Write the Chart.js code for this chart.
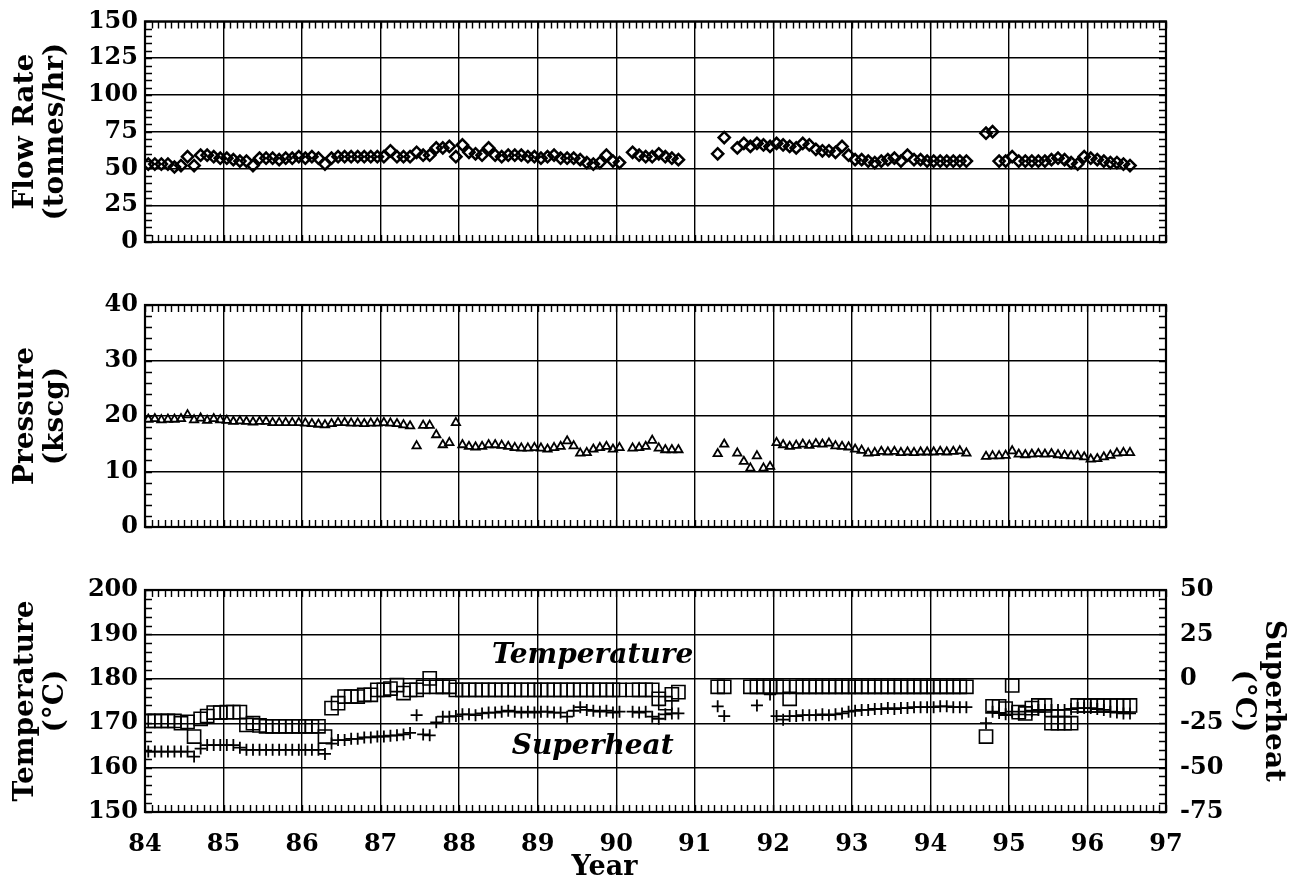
<!DOCTYPE html>
<html><head><meta charset="utf-8">
<script src="https://cdn.jsdelivr.net/npm/chart.js@4.4.1/dist/chart.umd.min.js"></script>
<style>
html,body{margin:0;padding:0;background:#fff;}
#wrap{position:relative;width:1301px;height:890px;overflow:hidden;background:#fff;}
canvas{position:absolute;left:0;}
</style></head><body>
<div id="wrap">
<canvas id="c1" width="1301" height="270" style="top:0px"></canvas>
<canvas id="c2" width="1301" height="280" style="top:275px"></canvas>
<canvas id="c3" width="1301" height="335" style="top:555px"></canvas>
</div>
<script>
// ---------- data (monthly readings, Jan 1984 .. Jul 1996) ----------
const firstYear = 84;
const lastYear = 97;
const monthsPerYear = 12;
const yearTickLabels = ['84','85','86','87','88','89','90','91','92','93','94','95','96','97'];
const xAxisTitle = 'Year';

const flowRate = [
  53,53,53,53,51,52,58,52,59,59,58,57,
  57,56,55,55,52,57,57,57,56,57,57,58,
  57,58,57,53,57,58,58,58,58,58,58,58,
  58,62,58,58,58,61,59,59,64,64,65,58,
  66,61,60,59,64,59,58,59,59,59,58,58,
  57,58,59,57,57,57,56,54,53,54,59,55,
  54,null,61,59,58,58,60,58,57,56,null,null,
  null,null,null,60,71,null,64,67,65,67,66,65,
  67,66,65,64,67,66,63,62,62,61,65,59,
  56,56,55,54,55,56,57,55,59,56,56,55,
  55,55,55,55,55,55,null,null,74,75,55,55,
  58,55,55,55,55,55,56,57,56,54,53,58,
  57,56,55,54,54,53,52
];

const pressure = [
  19.4,19.5,19.3,19.4,19.4,19.5,20.2,19.3,19.6,19.2,19.5,19.3,
  19.2,19.0,19.1,19.0,18.9,19.0,19.0,18.8,18.8,18.8,18.8,18.8,
  18.7,18.6,18.5,18.4,18.6,18.8,18.8,18.7,18.7,18.6,18.7,18.7,
  18.8,18.7,18.6,18.4,18.2,14.6,18.3,18.3,16.6,14.8,15.2,18.8,
  14.8,14.5,14.4,14.5,14.8,14.8,14.7,14.5,14.3,14.2,14.2,14.3,
  14.2,14.0,14.3,14.5,15.5,14.6,13.3,13.4,14.0,14.3,14.5,14.0,
  14.3,null,14.2,14.3,14.5,15.6,14.2,13.9,13.9,13.9,null,null,
  null,null,null,13.2,14.9,null,13.3,11.8,10.6,12.8,10.6,10.9,
  15.2,14.8,14.5,14.7,14.9,14.7,15.0,14.9,15.1,14.6,14.5,14.4,
  14.0,13.8,13.3,13.4,13.6,13.5,13.6,13.4,13.5,13.4,13.5,13.5,
  13.5,13.6,13.5,13.6,13.7,13.3,null,null,12.7,12.8,12.8,12.9,
  13.7,13.1,13.0,13.1,13.2,13.1,13.2,13.0,12.9,12.8,12.8,12.6,
  12.2,12.3,12.6,12.9,13.3,13.4,13.4
];

const temperature = [
  170.5,170.5,170.5,170.5,170.5,170.0,170.3,167.0,171.0,171.6,172.4,172.4,
  172.5,172.5,172.5,169.6,170.0,169.5,169.3,169.3,169.3,169.3,169.3,169.3,
  169.3,169.3,169.3,167.0,173.4,174.5,176.0,176.0,176.0,176.4,176.4,177.5,
  177.5,177.8,178.6,176.8,177.5,177.5,178.2,180.1,178.2,178.2,178.2,177.5,
  177.5,177.5,177.5,177.5,177.5,177.5,177.5,177.5,177.5,177.5,177.5,177.5,
  177.5,177.5,177.5,177.5,177.5,177.5,177.5,177.5,177.5,177.5,177.5,177.5,
  177.5,null,177.5,177.5,177.5,177.5,175.5,174.5,176.5,177.0,null,null,
  null,null,null,178.2,178.2,null,null,null,178.2,178.2,178.2,178.2,
  178.2,178.2,175.5,178.2,178.2,178.2,178.2,178.2,178.2,178.2,178.2,178.2,
  178.2,178.2,178.2,178.2,178.2,178.2,178.2,178.2,178.2,178.2,178.2,178.2,
  178.2,178.2,178.2,178.2,178.2,178.2,null,null,167.0,173.8,173.8,173.3,
  178.5,172.5,172.2,173.4,174.0,174.0,170.0,170.0,170.0,170.0,174.0,174.0,
  174.0,174.0,174.0,174.0,174.0,174.0,174.0
];

const superheat = [
  -41,-41,-41,-41,-41,-41,-41,-43.8,-39.3,-37.3,-37.3,-37.3,
  -37.3,-37.3,-38.8,-40,-40,-40,-40,-40,-40,-40,-40,-40,
  -40,-40,-40,-42.3,-36.5,-34.5,-34.5,-33.8,-33.8,-33,-33,-32.5,
  -32.5,-32,-31.8,-31.3,-30.5,-20.5,-31.3,-31.8,-24.5,-21.3,-21.3,-21,
  -20,-20,-20.5,-19.5,-19,-19,-18.5,-18,-18.5,-19,-18.5,-19,
  -18.5,-18.5,-19,-19,-21.3,-18,-16,-17.5,-18,-18.5,-18,-19,
  -18.5,null,-18.5,-19,-18.5,-21.3,-22.5,-20,-19.5,-19.5,null,null,
  null,null,null,-15.5,-21,null,null,null,null,-15,null,-8.8,
  -21,-23,-21,-21,-20.5,-20.5,-20.5,-20,-20.5,-20,-19.5,-18.5,
  -18,-17.5,-17.5,-17,-17,-16.5,-17,-16.5,-16.5,-16,-16,-16,
  -16,-15.5,-15.5,-16,-16,-16,null,null,-25,-18.5,-19.3,-20,
  -18.5,-20,-18.5,-18,-17.5,-17.5,-17.5,-17.5,-17.5,-17,-16.5,-16.5,
  -16.5,-17,-17.5,-18.5,-19,-19.5,-19.5
];

// ---------- helpers ----------
const toPoints = arr => arr.map((v, i) => ({x: firstYear + (i + 0.5) / monthsPerYear, y: v}));
const SERIF = "'DejaVu Serif', 'Liberation Serif', serif";
const tickFont = {family: SERIF, size: 24, weight: 'bold'};
const titleFont = {family: SERIF, size: 28, weight: 'bold', lineHeight: 1.1};
const PLOT_LEFT = 145, PLOT_RIGHT_GAP = 135;

const frameTicks = {
  id: 'frameTicks',
  afterDraw(chart, args, o) {
    const {ctx, chartArea: a} = chart;
    const xs = chart.scales.x, ys = chart.scales.y;
    const yr = chart.scales[o.rightAxis] || ys;
    const L = 7;
    ctx.save();
    ctx.strokeStyle = '#000';
    ctx.lineWidth = 1.4;
    ctx.beginPath();
    const nx = Math.round((xs.max - xs.min) / o.xStep);
    for (let k = 0; k <= nx; k++) {
      const p = Math.round(xs.getPixelForValue(xs.min + k * o.xStep)) + 0.5;
      ctx.moveTo(p, a.top); ctx.lineTo(p, a.top + L);
      ctx.moveTo(p, a.bottom); ctx.lineTo(p, a.bottom - L);
    }
    const ny = Math.round((ys.max - ys.min) / o.yStep);
    for (let k = 0; k <= ny; k++) {
      const p = Math.round(ys.getPixelForValue(ys.min + k * o.yStep)) + 0.5;
      ctx.moveTo(a.left, p); ctx.lineTo(a.left + L, p);
    }
    const rStep = o.rStep || o.yStep;
    const nr = Math.round((yr.max - yr.min) / rStep);
    for (let k = 0; k <= nr; k++) {
      const p = Math.round(yr.getPixelForValue(yr.min + k * rStep)) + 0.5;
      ctx.moveTo(a.right, p); ctx.lineTo(a.right - L, p);
    }
    ctx.stroke();
    ctx.lineWidth = 2.2;
    ctx.strokeRect(a.left, a.top, a.right - a.left, a.bottom - a.top);
    ctx.restore();
  }
};

// in-plot series labels and the x-axis title (placed under the 89-90 gap as in the original)
const textLabels = {
  id: 'textLabels',
  afterDatasetsDraw(chart, args, o) {
    if (!o.items) return;
    const {ctx} = chart;
    ctx.save();
    ctx.fillStyle = '#000';
    ctx.textAlign = 'center';
    ctx.textBaseline = 'middle';
    o.items.forEach(it => {
      ctx.font = it.font;
      const px = chart.scales.x.getPixelForValue(it.x);
      const py = it.axis ? chart.scales[it.axis].getPixelForValue(it.y) : chart.chartArea.bottom + it.dy;
      ctx.fillText(it.text, px, py);
    });
    ctx.restore();
  }
};

function xAxis(showLabels, height) {
  return {
    type: 'linear', min: firstYear, max: lastYear,
    afterBuildTicks: s => { s.ticks = yearTickLabels.map(t => ({value: Number(t)})); },
    ticks: {
      display: showLabels, autoSkip: false, maxRotation: 0, padding: 18,
      color: '#000', font: tickFont,
      callback: v => yearTickLabels[v - firstYear]
    },
    grid: {color: '#000', lineWidth: 1.4, drawTicks: false},
    border: {display: false},
    title: {display: false},
    afterFit: s => { s.height = height; }
  };
}

function yAxis(min, max, step, title) {
  return {
    type: 'linear', position: 'left', min, max,
    ticks: {stepSize: step, color: '#000', font: tickFont, padding: 7},
    grid: {color: '#000', lineWidth: 1.4, drawTicks: false},
    border: {display: false},
    title: {display: true, text: title, color: '#000', font: titleFont, padding: {top: 10, bottom: 0}},
    afterFit: s => { s.width = PLOT_LEFT; }
  };
}

const common = {
  responsive: false, animation: false, events: [],
  plugins: {legend: {display: false}, tooltip: {enabled: false}}
};

// ---------- Panel 1: flow rate ----------
new Chart(document.getElementById('c1'), {
  type: 'scatter',
  data: {datasets: [{
    label: 'Flow Rate', data: toPoints(flowRate),
    pointStyle: 'rectRot', pointRadius: 5.6, borderColor: '#000', backgroundColor: 'rgba(0,0,0,0)', borderWidth: 2.5, showLine: false
  }]},
  options: Object.assign({}, common, {
    layout: {padding: {left: 0, right: PLOT_RIGHT_GAP, top: 20, bottom: 28}},
    scales: {x: xAxis(false, 0), y: yAxis(0, 150, 25, ['Flow Rate', '(tonnes/hr)'])},
    plugins: Object.assign({}, common.plugins, {frameTicks: {xStep: 1 / 12, yStep: 5}})
  }),
  plugins: [frameTicks]
});

// ---------- Panel 2: pressure ----------
new Chart(document.getElementById('c2'), {
  type: 'scatter',
  data: {datasets: [{
    label: 'Pressure', data: toPoints(pressure),
    pointStyle: 'triangle', pointRadius: 4.8, borderColor: '#000', backgroundColor: 'rgba(0,0,0,0)', borderWidth: 1.8, showLine: false
  }]},
  options: Object.assign({}, common, {
    layout: {padding: {left: 0, right: PLOT_RIGHT_GAP, top: 30, bottom: 28}},
    scales: {x: xAxis(false, 0), y: yAxis(0, 40, 10, ['Pressure', '(kscg)'])},
    plugins: Object.assign({}, common.plugins, {frameTicks: {xStep: 1 / 12, yStep: 2}})
  }),
  plugins: [frameTicks]
});

// ---------- Panel 3: temperature & superheat ----------
new Chart(document.getElementById('c3'), {
  type: 'scatter',
  data: {datasets: [
    {label: 'Temperature', data: toPoints(temperature), yAxisID: 'y',
     pointStyle: 'rect', pointRadius: 9.3, borderColor: '#000', backgroundColor: 'rgba(0,0,0,0)', borderWidth: 1.6, showLine: false},
    {label: 'Superheat', data: toPoints(superheat), yAxisID: 'y2',
     pointStyle: 'cross', pointRadius: 6, borderColor: '#000', backgroundColor: 'rgba(0,0,0,0)', borderWidth: 1.8, showLine: false}
  ]},
  options: Object.assign({}, common, {
    layout: {padding: {left: 0, right: 0, top: 35, bottom: 0}},
    scales: {
      x: xAxis(true, 78),
      y: yAxis(150, 200, 10, ['Temperature', '(°C)']),
      y2: {
        type: 'linear', position: 'right', min: -75, max: 50,
        ticks: {stepSize: 25, color: '#000', font: tickFont, padding: 14},
        grid: {drawOnChartArea: false, drawTicks: false},
        border: {display: false},
        title: {display: true, text: ['Superheat', '(°C)'], color: '#000', font: titleFont, padding: {top: 12, bottom: 0}},
        afterFit: s => { s.width = PLOT_RIGHT_GAP; }
      }
    },
    plugins: Object.assign({}, common.plugins, {
      frameTicks: {xStep: 1 / 12, yStep: 2, rightAxis: 'y2', rStep: 5},
      textLabels: {items: [
        {text: 'Temperature', x: 89.7, y: 185.1, axis: 'y', font: 'italic bold 28px ' + SERIF},
        {text: 'Superheat', x: 89.7, y: 164.6, axis: 'y', font: 'italic bold 28px ' + SERIF},
        {text: xAxisTitle, x: 89.85, dy: 56, font: 'bold 27px ' + SERIF}
      ]}
    })
  }),
  plugins: [frameTicks, textLabels]
});
</script>
</body></html>
